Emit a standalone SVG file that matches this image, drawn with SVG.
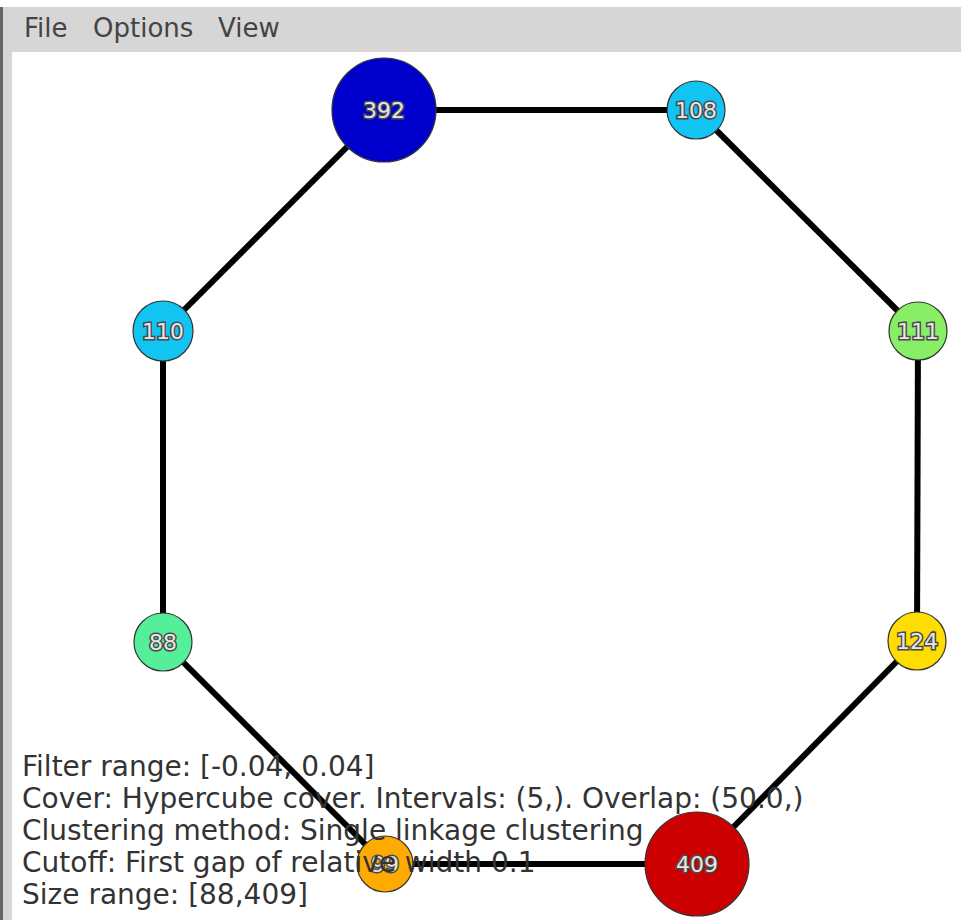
<svg xmlns="http://www.w3.org/2000/svg" width="961" height="920" viewBox="0 0 961 920">
  <style>
    .menu { font-family: "DejaVu Sans", sans-serif; font-size: 26px; fill: #444; }
    .edge { stroke: #000; stroke-width: 6; fill: none; }
    .node { stroke: #333; stroke-width: 1.2; }
    .lbl { font-family: "DejaVu Sans", sans-serif; font-size: 22px; fill: #e6e6e6; stroke: #4a4a4a; stroke-width: 3; paint-order: stroke; text-anchor: middle; }
    .info { font-family: "DejaVu Sans", sans-serif; font-size: 28px; fill: #333; }
  </style>

  <!-- window chrome -->
  <rect x="0" y="0" width="961" height="920" fill="#d6d6d6"/>
  <rect x="0" y="0" width="961" height="7" fill="#ffffff"/>
  <rect x="0" y="7" width="3" height="913" fill="#666"/>
  <rect x="12" y="52" width="949" height="868" fill="#ffffff"/>

  <g id="menu">
    <text class="menu" x="24" y="37">File</text>
    <text class="menu" x="93" y="37">Options</text>
    <text class="menu" x="218" y="37">View</text>
  </g>

  <!-- connectors -->
  <g id="edges">
    <line class="edge" x1="384" y1="110" x2="696" y2="110"/>
    <line class="edge" x1="696" y1="110" x2="918" y2="331"/>
    <line class="edge" x1="918" y1="331" x2="917" y2="641"/>
    <line class="edge" x1="917" y1="641" x2="697" y2="864"/>
    <line class="edge" x1="697" y1="864" x2="385" y2="864"/>
    <line class="edge" x1="385" y1="864" x2="163" y2="642"/>
    <line class="edge" x1="163" y1="642" x2="163" y2="331"/>
    <line class="edge" x1="163" y1="331" x2="384" y2="110"/>
  </g>

  <!-- nodes -->
  <g id="n392">
    <circle class="node" cx="384" cy="110" r="52" fill="#0000cc"/>
    <text class="lbl" x="384" y="118">392</text>
  </g>
  <g id="n108">
    <circle class="node" cx="696" cy="110" r="29" fill="#11c4f2"/>
    <text class="lbl" x="696" y="118">108</text>
  </g>
  <g id="n111">
    <circle class="node" cx="918" cy="331" r="29" fill="#88ee66"/>
    <text class="lbl" x="918" y="339">111</text>
  </g>
  <g id="n124">
    <circle class="node" cx="917" cy="641" r="29" fill="#ffdd00"/>
    <text class="lbl" x="917" y="649">124</text>
  </g>
  <g id="n409">
    <circle class="node" cx="697" cy="864" r="52" fill="#cc0000"/>
    <text class="lbl" x="697" y="872">409</text>
  </g>
  <g id="n99">
    <circle class="node" cx="385" cy="864" r="28" fill="#ffaa00"/>
    <text class="lbl" x="385" y="872">99</text>
  </g>
  <g id="n88">
    <circle class="node" cx="163" cy="642" r="29" fill="#55ee99"/>
    <text class="lbl" x="163" y="650">88</text>
  </g>
  <g id="n110">
    <circle class="node" cx="163" cy="331" r="30" fill="#11c4f2"/>
    <text class="lbl" x="163" y="339">110</text>
  </g>

  <!-- parameter summary -->
  <g id="info">
    <text class="info" x="22" y="776">Filter range: [-0.04, 0.04]</text>
    <text class="info" x="22" y="808">Cover: Hypercube cover. Intervals: (5,). Overlap: (50.0,)</text>
    <text class="info" x="22" y="840">Clustering method: Single linkage clustering</text>
    <text class="info" x="22" y="872">Cutoff: First gap of relative width 0.1</text>
    <text class="info" x="22" y="904">Size range: [88,409]</text>
  </g>
</svg>
